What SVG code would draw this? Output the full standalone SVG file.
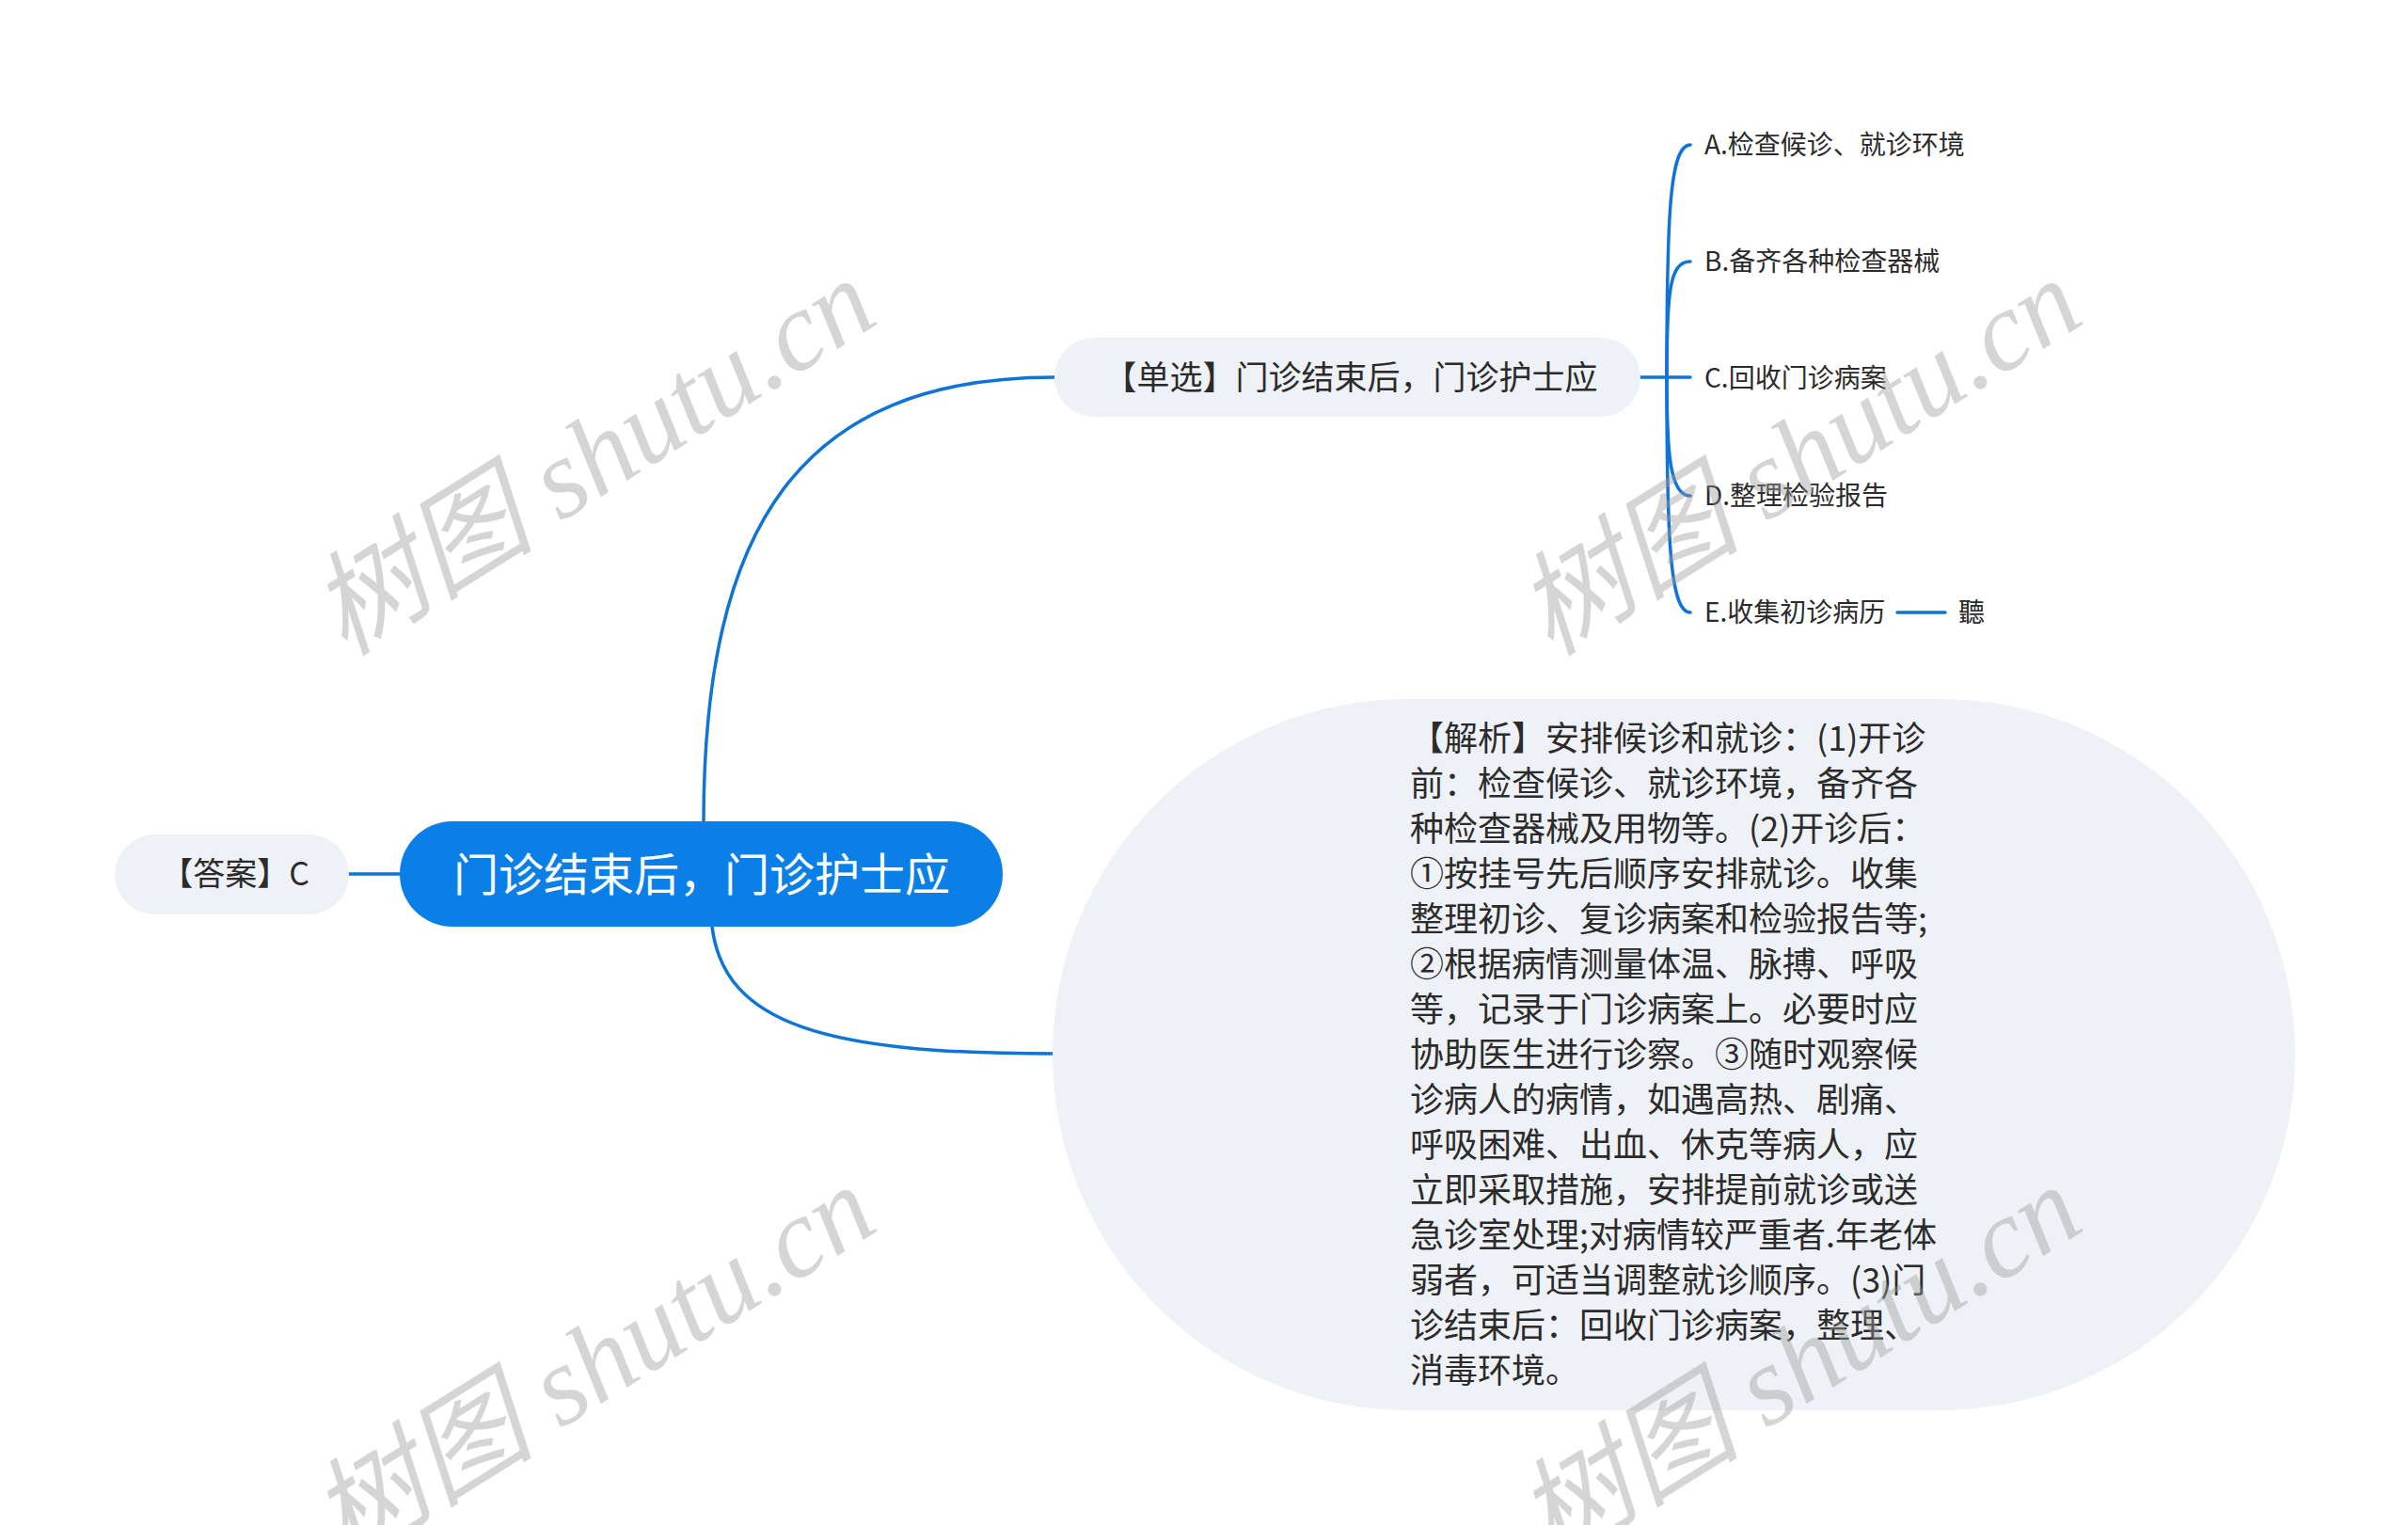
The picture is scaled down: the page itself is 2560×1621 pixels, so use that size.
<svg xmlns="http://www.w3.org/2000/svg" width="2560" height="1621" viewBox="0 0 2560 1621">
<style>
.cn{font-family:"Noto Sans CJK SC","Noto Sans",sans-serif;}
.line{fill:none;stroke:#0f74d6;stroke-width:3.5;stroke-linecap:round;}
.pill{fill:#eef1f5;}
.dark{fill:#2b2b2b;}
.leaf{font-size:28px;fill:#2b2b2b;}
.wm{font-family:"Liberation Serif","Noto Sans CJK SC",serif;font-style:italic;font-size:120px;fill:#9a9a9a;fill-opacity:0.42;}
</style>
<rect width="2560" height="1621" fill="#ffffff"/>
<g id="connectors">
<path class="line" d="M748,875 C748,560 850,401 1121,401"/>
<path class="line" d="M757,985 C770,1090 880,1120 1121,1120"/>
<path class="line" d="M371,929 L425,929"/>
<path class="line" d="M1744,401 L1797,401"/>
<path class="line" d="M1772,401 C1772,230 1775,154 1797,154"/>
<path class="line" d="M1772,401 C1772,310 1775,278 1797,278"/>
<path class="line" d="M1772,401 C1772,480 1775,527 1797,527"/>
<path class="line" d="M1772,401 C1772,570 1775,651 1797,651"/>
<path class="line" d="M2017,651 L2068,651"/>
</g>
<g id="root">
<rect x="425" y="873" width="641" height="112" rx="56" fill="#0b7fe8"/>
<text class="cn" x="746" y="947" font-size="48" fill="#ffffff" text-anchor="middle">门诊结束后，门诊护士应</text>
</g>
<g id="answer">
<rect class="pill" x="122" y="887" width="249" height="85" rx="42.5"/>
<text class="cn dark" x="250" y="941" font-size="34" text-anchor="middle">【答案】C</text>
</g>
<g id="question">
<rect class="pill" x="1121" y="359" width="623" height="84" rx="42"/>
<text class="cn dark" x="1436" y="414" font-size="35" text-anchor="middle">【单选】门诊结束后，门诊护士应</text>
</g>
<g id="optA"><text class="cn leaf" x="1812" y="164">A.检查候诊、就诊环境</text></g>
<g id="optB"><text class="cn leaf" x="1812" y="288">B.备齐各种检查器械</text></g>
<g id="optC"><text class="cn leaf" x="1812" y="412">C.回收门诊病案</text></g>
<g id="optD"><text class="cn leaf" x="1812" y="537">D.整理检验报告</text></g>
<g id="optE"><text class="cn leaf" x="1812" y="661">E.收集初诊病历</text></g>
<g id="optE1"><text class="cn leaf" x="2082" y="661">聽</text></g>
<g id="analysis">
<rect class="pill" x="1119" y="743" width="1321" height="756" rx="378" ry="378"/>
<text class="cn dark" font-size="36">
<tspan x="1499" y="798">【解析】安排候诊和就诊：(1)开诊</tspan>
<tspan x="1499" y="846">前：检查候诊、就诊环境，备齐各</tspan>
<tspan x="1499" y="894">种检查器械及用物等。(2)开诊后：</tspan>
<tspan x="1499" y="942">①按挂号先后顺序安排就诊。收集</tspan>
<tspan x="1499" y="990">整理初诊、复诊病案和检验报告等;</tspan>
<tspan x="1499" y="1038">②根据病情测量体温、脉搏、呼吸</tspan>
<tspan x="1499" y="1086">等，记录于门诊病案上。必要时应</tspan>
<tspan x="1499" y="1134">协助医生进行诊察。③随时观察候</tspan>
<tspan x="1499" y="1182">诊病人的病情，如遇高热、剧痛、</tspan>
<tspan x="1499" y="1230">呼吸困难、出血、休克等病人，应</tspan>
<tspan x="1499" y="1278">立即采取措施，安排提前就诊或送</tspan>
<tspan x="1499" y="1326">急诊室处理;对病情较严重者.年老体</tspan>
<tspan x="1499" y="1374">弱者，可适当调整就诊顺序。(3)门</tspan>
<tspan x="1499" y="1422">诊结束后：回收门诊病案，整理、</tspan>
<tspan x="1499" y="1470">消毒环境。</tspan>
</text>
</g>
<g id="watermarks">
<text class="wm" text-anchor="middle" transform="translate(652,520) rotate(-32)">树图 shutu.cn</text>
<text class="wm" text-anchor="middle" transform="translate(1934,520) rotate(-32)">树图 shutu.cn</text>
<text class="wm" text-anchor="middle" transform="translate(652,1484) rotate(-32)">树图 shutu.cn</text>
<text class="wm" text-anchor="middle" transform="translate(1934,1484) rotate(-32)">树图 shutu.cn</text>
</g>
</svg>
